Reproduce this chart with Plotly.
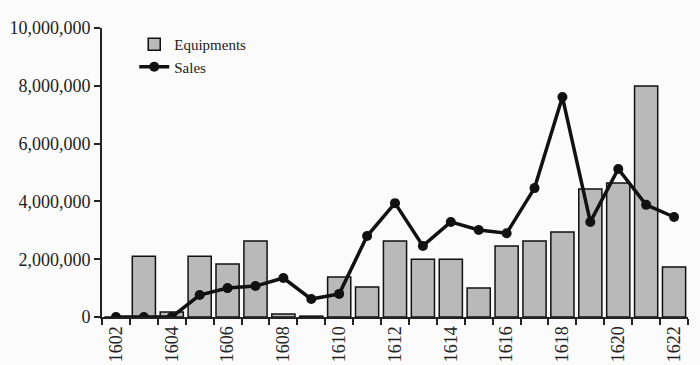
import plotly.graph_objects as go

years = list(range(1602, 1623))
equipments = [0, 2100000, 170000, 2100000, 1830000, 2630000, 100000, 30000, 1380000, 1040000,
              2630000, 2000000, 2000000, 1000000, 2460000, 2630000, 2940000, 4430000, 4640000,
              7990000, 1730000]
sales = [0, 0, 0, 760000, 1000000, 1070000, 1350000, 620000, 800000, 2800000,
         3940000, 2460000, 3290000, 3010000, 2900000, 4460000, 7610000, 3290000, 5120000,
         3880000, 3460000]
xtick_labels = [str(y) for y in range(1602, 1623, 2)]
ytick_vals = [0, 2000000, 4000000, 6000000, 8000000, 10000000]
ytick_text = ["0", "2,000,000", "4,000,000", "6,000,000", "8,000,000", "10,000,000"]

fig = go.Figure()
fig.add_trace(go.Bar(x=years, y=equipments, name="Equipments",
                     marker=dict(color="#b9b9b9", line=dict(color="#111111", width=1.5))))
fig.add_trace(go.Scatter(x=years, y=sales, name="Sales", mode="lines+markers",
                         line=dict(color="#111111", width=3.5),
                         marker=dict(color="#111111", size=10)))

fig.update_layout(
    width=700, height=365,
    margin=dict(l=102, r=12, t=28, b=48, autoexpand=False),
    paper_bgcolor="#fbfbfb", plot_bgcolor="#fbfbfb",
    font=dict(family="Liberation Serif", size=18, color="#222222"),
    bargap=0.17,
    showlegend=True,
    legend=dict(x=0.055, y=1.0, xanchor="left", yanchor="top",
                bgcolor="rgba(0,0,0,0)", font=dict(size=15, color="#222222"),
                itemwidth=30, tracegroupgap=2),
)
fig.update_xaxes(
    range=[1601.5, 1622.5], tickvals=[int(t) for t in xtick_labels], ticktext=xtick_labels,
    tickangle=-90, ticks="", showgrid=False, zeroline=False, automargin=False,
    showline=True, linecolor="#222222", linewidth=2,
    minor=dict(ticks="outside", tick0=1601.5, dtick=1, ticklen=6, tickcolor="#222222", tickwidth=1.5, showgrid=False),
)
fig.update_yaxes(
    range=[0, 10000000], tickvals=ytick_vals, ticktext=ytick_text, automargin=False,
    ticks="outside", ticklen=6, tickcolor="#222222", tickwidth=1.5,
    showgrid=False, zeroline=False, showline=True, linecolor="#222222", linewidth=2,
)

fig.write_html("out.html", config={"displayModeBar": False},
               post_script="document.body.style.margin='0';document.body.style.overflow='hidden';")
